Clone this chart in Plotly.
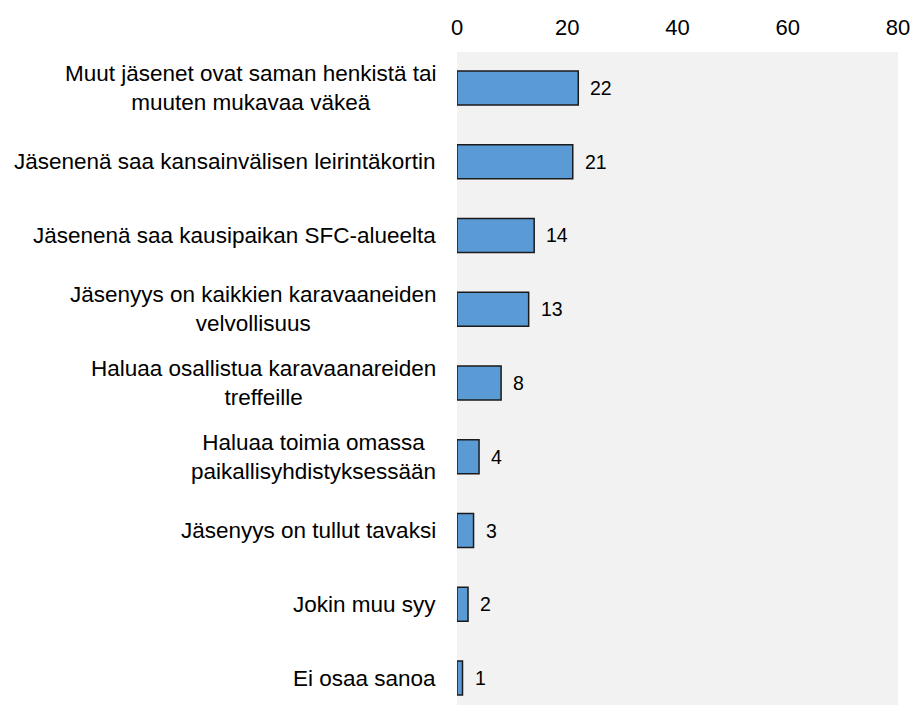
import plotly.graph_objects as go

categories = [
    "Muut jäsenet ovat saman henkistä tai<br>muuten mukavaa väkeä",
    "Jäsenenä saa kansainvälisen leirintäkortin",
    "Jäsenenä saa kausipaikan SFC-alueelta",
    "Jäsenyys on kaikkien karavaaneiden<br>velvollisuus",
    "Haluaa osallistua karavaanareiden<br>treffeille",
    "Haluaa toimia omassa<br>paikallisyhdistyksessään",
    "Jäsenyys on tullut tavaksi",
    "Jokin muu syy",
    "Ei osaa sanoa",
]
values = [22, 21, 14, 13, 8, 4, 3, 2, 1]
tick_vals = [0, 20, 40, 60, 80]

FONT = "Liberation Sans, Arial, sans-serif"

fig = go.Figure()
fig.add_trace(go.Bar(
    x=values,
    y=list(range(len(categories))),
    orientation="h",
    width=0.46,
    marker=dict(color="#5b9bd5", line=dict(color="#1a1a1a", width=1.5)),
    hoverinfo="skip",
))

annotations = []
for i, (c, v) in enumerate(zip(categories, values)):
    annotations.append(dict(
        x=0, xref="paper", y=i, yref="y", text=c, showarrow=False,
        xanchor="right", yanchor="middle", align="center", xshift=-19,
        font=dict(family=FONT, size=22.5, color="#000000"),
    ))
    annotations.append(dict(
        x=v, xref="x", y=i, yref="y", text=str(v), showarrow=False,
        xanchor="left", yanchor="middle", xshift=10,
        font=dict(family=FONT, size=19.5, color="#000000"),
    ))

fig.update_layout(
    width=913, height=705,
    margin=dict(l=457, r=15, t=52, b=0),
    paper_bgcolor="#ffffff",
    plot_bgcolor="#f2f2f2",
    showlegend=False,
    annotations=annotations,
    xaxis=dict(
        side="top", range=[0, 80], tickvals=tick_vals, showgrid=False,
        zeroline=False, showline=False, ticks="", ticklabelstandoff=12,
        tickfont=dict(family=FONT, size=22, color="#000000"),
    ),
    yaxis=dict(
        range=[8.366, -0.488], showticklabels=False, showgrid=False,
        zeroline=False, showline=False, ticks="",
    ),
)

fig.write_html(
    "out.html",
    config={"displayModeBar": False},
    post_script="document.body.style.margin='0';document.body.style.overflow='hidden';",
)
